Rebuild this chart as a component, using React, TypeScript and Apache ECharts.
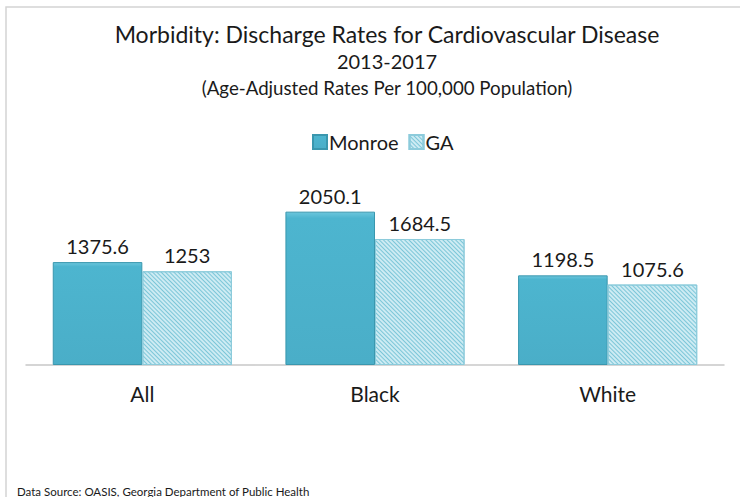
import React, { useEffect, useRef } from "react";
import * as echarts from "echarts";

const categories = ["All", "Black", "White"];
const monroeValues = [1375.6, 2050.1, 1198.5];
const gaValues = [1253, 1684.5, 1075.6];
const titleLines = [
  "Morbidity: Discharge Rates for Cardiovascular Disease",
  "2013-2017",
  "(Age-Adjusted Rates Per 100,000 Population)",
];
const sourceText = "Data Source: OASIS, Georgia Department of Public Health";

const FONT = "Lato, 'Liberation Sans', sans-serif";

export default function App() {
  const ref = useRef<HTMLDivElement>(null);
  useEffect(() => {
    document.body.style.margin = "0";
    const chart = echarts.init(ref.current!, null, { renderer: "svg" });
    const titleText = (text: string, y: number, size: number) => ({
      type: "text",
      x: 387,
      y,
      silent: true,
      style: {
        text,
        fontSize: size,
        fontFamily: FONT,
        fill: "#1a1a1a",
        textAlign: "center",
        textVerticalAlign: "middle",
      },
    });
    chart.setOption({
      animation: false,
      backgroundColor: "#ffffff",
      textStyle: { fontFamily: FONT },
      title: [
        {
          text: sourceText,
          left: 12,
          top: 480,
          textStyle: { fontSize: 11.5, fontWeight: "normal", color: "#1a1a1a", fontFamily: FONT },
        },
      ],
      legend: {
        top: 127,
        left: 307,
        itemWidth: 14,
        itemHeight: 14,
        itemGap: 10,
        icon: "rect",
        textStyle: { fontSize: 20, color: "#1a1a1a", fontFamily: FONT, padding: [0, 0, 0, -3] },
        data: ["Monroe", "GA"],
      },
      grid: { left: 26, right: 16, top: 178, bottom: 132, containLabel: false },
      xAxis: {
        type: "category",
        data: categories,
        axisLine: { lineStyle: { color: "#c8c8c8", width: 1.5 } },
        axisTick: { show: false },
        axisLabel: { fontSize: 21, color: "#1a1a1a", margin: 18, fontFamily: FONT },
      },
      yAxis: {
        type: "value",
        min: 0,
        max: 2500,
        show: false,
        splitLine: { show: false },
      },
      graphic: [
        {
          type: "rect",
          shape: { x: 6, y: 7, width: 760, height: 520 },
          style: { fill: "none", stroke: "#d4d4d4", lineWidth: 1.5 },
          silent: true,
        },
        titleText(titleLines[0], 34, 23),
        titleText(titleLines[1], 61, 20),
        titleText(titleLines[2], 88, 18.7),
      ],
      series: [
        {
          name: "Monroe",
          type: "bar",
          data: monroeValues,
          barGap: "0%",
          barCategoryGap: "23%",
          itemStyle: {
            color: new echarts.graphic.LinearGradient(0, 0, 0, 1, [
              { offset: 0, color: "#6cc6dc" },
              { offset: 0.04, color: "#4db5cf" },
              { offset: 1, color: "#4aaec8" },
            ]),
            borderColor: "#3a97ae",
            borderWidth: 1,
          },
          label: {
            show: true,
            position: "top",
            distance: 6,
            fontSize: 20,
            color: "#1a1a1a",
            fontFamily: FONT,
          },
        },
        {
          name: "GA",
          type: "bar",
          data: gaValues,
          itemStyle: {
            color: "#cdebf3",
            borderColor: "#8ccbdb",
            borderWidth: 1,
            decal: {
              symbol: "rect",
              symbolSize: 1,
              color: "#7cc6d8",
              dashArrayX: [1, 0],
              dashArrayY: [1, 1.2],
              rotation: Math.PI / 4,
            },
          },
          label: {
            show: true,
            position: "top",
            distance: 6,
            fontSize: 20,
            color: "#1a1a1a",
            fontFamily: FONT,
          },
        },
      ],
    });
    return () => chart.dispose();
  }, []);
  return <div ref={ref} style={{ width: 740, height: 497 }} />;
}
